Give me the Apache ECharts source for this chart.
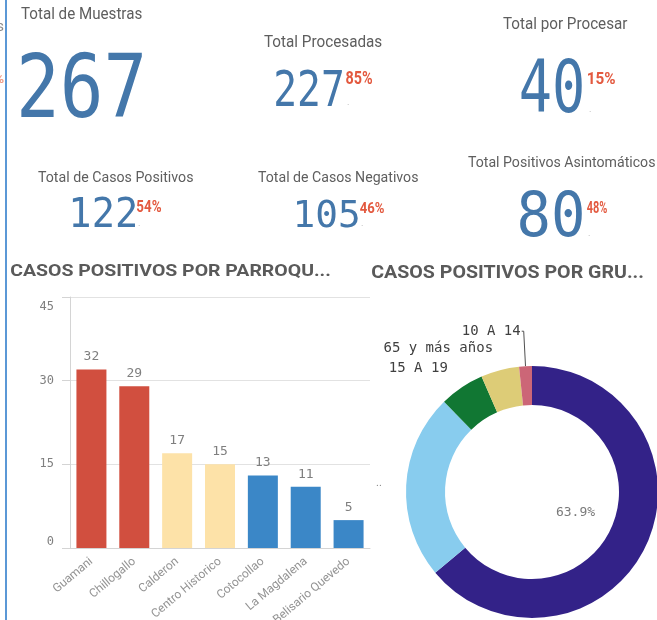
<!DOCTYPE html>
<html>
<head>
<meta charset="utf-8">
<title>Casos positivos</title>
<script src="https://cdn.jsdelivr.net/npm/echarts@6/dist/echarts.min.js"></script>
<style>
  html, body { margin: 0; padding: 0; background: #fff; }
  #chart { width: 657px; height: 620px; }
</style>
</head>
<body>
<div id="chart"></div>
<script>
// indicadores (KPI)
const kpiTitulos = ['Total de Muestras', 'Total Procesadas', 'Total por Procesar',
  'Total de Casos Positivos', 'Total de Casos Negativos', 'Total Positivos Asintomáticos']
const kpiValores = [267, 227, 40, 122, 105, 80]
const kpiPorcentajes = ['', '85%', '15%', '54%', '46%', '48%']

// casos positivos por parroquia
const parroquias = ['Guamani', 'Chillogallo', 'Calderon', 'Centro Historico', 'Cotocollao', 'La Magdalena', 'Belisario Quevedo']
const casosParroquia = [32, 29, 17, 15, 13, 11, 5]
const ejeValores = [0, 15, 30, 45]

// casos positivos por grupo de edad
const gruposEdad = ['20 A 49', '50 A 64', '15 A 19', '65 y más años', '10 A 14']
const casosEdad = [78, 29, 7, 6, 2]

// estilos / posiciones (cajas de tinta medidas en la imagen)
const coloresEdad = ['#332288', '#88ccee', '#117733', '#ddcc77', '#cc6677']
const kpiLayout = [
  { titulo: [21, 142, 15], tam: 16, valor: [21, 52, 142, 118], pct: null },
  { titulo: [264, 382, 43], tam: 16, valor: [276, 69, 342, 106], pct: [346, 70, 372, 84] },
  { titulo: [503, 628, 25], tam: 16, valor: [521, 57, 582, 113], pct: [588, 72, 615, 84] },
  { titulo: [38, 193, 178], tam: 14.5, valor: [73, 197, 135, 227], pct: [137, 200, 161, 212] },
  { titulo: [258, 418, 178], tam: 14.5, valor: [297, 198, 358, 227], pct: [360, 202, 384, 213] },
  { titulo: [468, 655, 163], tam: 14.5, valor: [520, 190, 582, 237], pct: [587, 201, 607, 213] }
]

const ctx = document.createElement('canvas').getContext('2d')
function medir (texto, font) {
  ctx.font = font
  ctx.textBaseline = 'middle'
  ctx.textAlign = 'left'
  return ctx.measureText(texto)
}
function estilo (texto, peso, tam, familia, color) {
  return {
    text: texto, fontWeight: peso, fontSize: tam, fontFamily: familia, fill: color,
    align: 'left', verticalAlign: 'middle', textAlign: 'left', textVerticalAlign: 'middle'
  }
}
// texto que llena una caja [x0, y0, x1, y1]
function textoEnCaja (texto, peso, familia, caja, color, adelgazar) {
  const m = medir(texto, peso + ' 100px "' + familia + '"')
  const alto = m.actualBoundingBoxAscent + m.actualBoundingBoxDescent
  const tam = 100 * (caja[3] - caja[1]) / alto
  const k = tam / 100
  const ancho = (m.actualBoundingBoxLeft + m.actualBoundingBoxRight) * k
  const sx = (caja[2] - caja[0]) / ancho
  const st = estilo(texto, peso, tam, familia, color)
  if (adelgazar) {
    // trazo blanco encima para aligerar el grosor de la letra
    st.stroke = '#fff'
    st.lineWidth = tam * adelgazar
  }
  return {
    type: 'text',
    x: caja[0] + m.actualBoundingBoxLeft * k * sx,
    y: caja[1] + m.actualBoundingBoxAscent * k,
    scaleX: sx,
    silent: true,
    style: st
  }
}
// texto de tamaño fijo ajustado a un ancho
function textoAncho (texto, peso, tam, familia, x0, x1, yc, color) {
  const m = medir(texto, peso + ' ' + tam + 'px "' + familia + '"')
  const sx = (x1 - x0) / (m.actualBoundingBoxLeft + m.actualBoundingBoxRight)
  return {
    type: 'text', x: x0 + m.actualBoundingBoxLeft * sx, y: yc, scaleX: sx, silent: true,
    style: estilo(texto, peso, tam, familia, color)
  }
}

const graficos = [
  { type: 'rect', shape: { x: 5, y: 0, width: 2, height: 620 }, style: { fill: '#5b98d6' }, silent: true },
  { type: 'text', x: 4, y: 27, style: { text: 's', fontSize: 15, fontFamily: 'Roboto', fill: '#8a8a8a', align: 'right', verticalAlign: 'middle', textAlign: 'right', textVerticalAlign: 'middle' } },
  { type: 'text', x: 4, y: 80, style: { text: '%', fontSize: 13, fontWeight: 'bold', fontFamily: 'Roboto', fill: '#ef9a85', align: 'right', verticalAlign: 'middle', textAlign: 'right', textVerticalAlign: 'middle' } },
  textoEnCaja('CASOS POSITIVOS POR PARROQU...', 'bold', 'Roboto', [11, 264, 330, 278], '#5a5a5a'),
  textoEnCaja('CASOS POSITIVOS POR GRU...', 'bold', 'Roboto', [372, 264, 643, 278], '#5a5a5a'),
  { type: 'text', x: 376, y: 483, style: { text: '..', fontSize: 11, fontFamily: 'Roboto', fill: '#8a8a8a', align: 'left', verticalAlign: 'middle', textAlign: 'left', textVerticalAlign: 'middle' } }
]
kpiTitulos.forEach((t, i) => {
  const L = kpiLayout[i]
  graficos.push(textoAncho(t, 'normal', L.tam, 'Roboto', L.titulo[0], L.titulo[1], L.titulo[2], '#5e5e5e'))
  graficos.push(textoEnCaja(String(kpiValores[i]), 'normal', 'DejaVu Sans Mono', L.valor, '#4477aa', 0.035))
  if (kpiPorcentajes[i]) {
    graficos.push(textoEnCaja(kpiPorcentajes[i], 'bold', 'Roboto', L.pct, '#e3593f'))
    graficos.push({ type: 'text', x: L.pct[0] + 1, y: L.valor[3] - 3, style: { text: '.', fontSize: 9, fontFamily: 'Roboto', fill: '#b0b0b0', align: 'left', verticalAlign: 'middle', textAlign: 'left', textVerticalAlign: 'middle' } })
  }
})

const ejeMin = ejeValores[0]
const ejeMax = ejeValores[ejeValores.length - 1]
const fuenteMono = 'DejaVu Sans Mono'

const chart = echarts.init(document.getElementById('chart'))
chart.setOption({
  animation: false,
  backgroundColor: '#fff',
  graphic: graficos,
  grid: { left: 70, right: 287, top: 297, bottom: 72, containLabel: false, outerBoundsMode: 'none' },
  xAxis: {
    type: 'category',
    data: parroquias,
    axisLine: { lineStyle: { color: '#d4d4d4' } },
    axisTick: { show: false },
    axisLabel: { interval: 0, rotate: 40, margin: 12, color: '#939393', fontFamily: 'Roboto', fontSize: 12 }
  },
  yAxis: {
    type: 'value',
    min: ejeMin,
    max: ejeMax,
    interval: ejeValores[1] - ejeValores[0],
    axisLine: { show: true, lineStyle: { color: '#d4d4d4' } },
    axisTick: { show: true, length: 8, lineStyle: { color: '#d4d4d4' } },
    splitLine: { lineStyle: { color: '#e2e2e2' } },
    axisLabel: {
      margin: 16,
      color: '#808080',
      fontFamily: fuenteMono,
      fontSize: 12,
      formatter: v => v === ejeMax ? '{arriba|' + v + '}' : (v === ejeMin ? '{abajo|' + v + '}' : String(v)),
      rich: {
        arriba: { padding: [20, 0, 0, 0], color: '#808080', fontFamily: fuenteMono, fontSize: 12 },
        abajo: { padding: [0, 0, 12, 0], color: '#808080', fontFamily: fuenteMono, fontSize: 12 }
      }
    }
  },
  series: [
    {
      name: 'Casos por parroquia',
      type: 'bar',
      data: casosParroquia,
      barCategoryGap: '30%',
      itemStyle: {
        color: p => p.value >= 20 ? '#d14f3f' : (p.value >= 15 ? '#fde2a8' : '#3b87c7')
      },
      label: { show: true, position: 'top', distance: 6, color: '#7f7f7f', fontFamily: fuenteMono, fontSize: 13 },
      emphasis: { disabled: true }
    },
    {
      name: 'Casos por grupo',
      type: 'pie',
      center: [532, 492],
      radius: [87, 126],
      startAngle: 90,
      clockwise: true,
      percentPrecision: 1,
      avoidLabelOverlap: false,
      itemStyle: { borderWidth: 0 },
      label: { show: true, position: 'outside', formatter: '{b}', distanceToLabelLine: 1, color: '#404040', fontFamily: fuenteMono, fontSize: 14 },
      labelLine: { show: true, length: 23, length2: 0, lineStyle: { color: '#505050', width: 1 } },
      emphasis: { disabled: true },
      data: gruposEdad.map((n, i) => ({
        name: n,
        value: casosEdad[i],
        itemStyle: { color: coloresEdad[i] },
        label: { show: i >= 2 },
        labelLine: i === 4 ? { show: true, length: 35, length2: 2 } : { show: false }
      }))
    },
    {
      name: 'Porcentaje',
      type: 'pie',
      center: [532, 492],
      radius: [0, 90],
      startAngle: 90,
      clockwise: true,
      percentPrecision: 1,
      silent: true,
      itemStyle: { color: 'rgba(0,0,0,0)', borderWidth: 0 },
      label: { show: true, position: 'inside', formatter: '{d}%', color: '#7a7a7a', fontFamily: fuenteMono, fontSize: 13 },
      labelLine: { show: false },
      emphasis: { disabled: true },
      data: gruposEdad.map((n, i) => ({ name: n, value: casosEdad[i], label: { show: i === 0 } }))
    }
  ]
})
</script>
</body>
</html>
